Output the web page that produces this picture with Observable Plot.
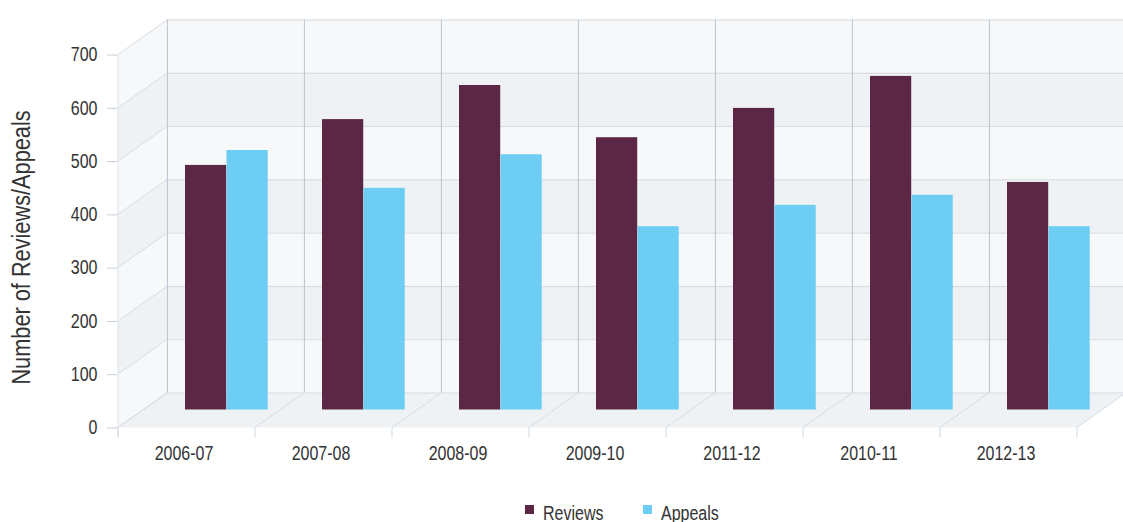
<!DOCTYPE html>
<html><head><meta charset="utf-8">
<script src="https://cdn.jsdelivr.net/npm/d3@7"></script>
<script src="https://cdn.jsdelivr.net/npm/@observablehq/plot@0.6"></script>
<style>
html,body{margin:0;padding:0;background:#fff;overflow:hidden;width:1123px;height:522px}
#chart svg{display:block}
.legend{position:relative;height:19px;font-family:"Liberation Sans",Arial,sans-serif;font-size:19.5px;line-height:20px;color:#333;white-space:nowrap}
.legend .sw{position:absolute;top:2px;width:9px;height:9px}
.legend .lt{position:absolute;top:0;transform:scaleX(0.82);transform-origin:0 0}
</style></head><body><div id="chart"></div><script>
const categories = ["2006-07","2007-08","2008-09","2009-10","2011-12","2010-11","2012-13"];
const reviews = [459,545,609,511,566,626,427];
const appeals = [487,416,479,344,384,403,344];
const series = ["Reviews","Appeals"];
const seriesColors = ["#5c2744","#6dcdf3"];
const yTicks = [0,100,200,300,400,500,600,700];
const yLabel = "Number of Reviews/Appeals";

const rows = categories.flatMap((c, i) => [
  {category: c, series: series[0], value: reviews[i]},
  {category: c, series: series[1], value: appeals[i]}
]);

const W = 1123, H = 503;
const ML = 117, MR = 45, MT = 54.5, MB = 75.5;
const DX = 49.4, DY = -35;      // depth of the back wall
const BDY = -18;                 // depth at which the columns stand
const bandW = (W - ML - MR) / categories.length;
const barW = 41.5;
const barDx = 67;
const LIGHT = "#f7f8fa", DARK = "#eef2f5";
const FONT = '"Liberation Sans",Arial,sans-serif';
const NARROW = 0.82;

const stripes = d3.pairs(yTicks);

function decor(index, {x, y}) {
  const g = d3.create("svg:g");
  const edges = categories.map(c => x(c)).concat([x(categories[categories.length-1]) + x.bandwidth()]);
  const x0 = edges[0], x1 = edges[edges.length-1];
  const y0 = y(0);
  const poly = pts => pts.map(p => p.join(",")).join(" ");
  g.append("polygon").attr("points", poly([[x0,y0],[x1,y0],[x1+DX,y0+DY],[x0+DX,y0+DY]])).attr("fill", DARK);
  stripes.forEach(([a,b], i) => {
    g.append("polygon").attr("points", poly([[x0,y(a)],[x0+DX,y(a)+DY],[x0+DX,y(b)+DY],[x0,y(b)]]))
      .attr("fill", i % 2 ? DARK : LIGHT);
  });
  return g.node();
}

function decorLines(index, {x, y}) {
  const g = d3.create("svg:g").attr("fill", "none").attr("stroke-width", 1);
  const edges = categories.map(c => x(c)).concat([x(categories[categories.length-1]) + x.bandwidth()]);
  const x0 = edges[0];
  const y0 = y(0), yTop = y(yTicks[yTicks.length-1]);
  edges.forEach(e => g.append("line").attr("x1", e+DX).attr("x2", e+DX).attr("y1", y0+DY).attr("y2", yTop+DY).attr("stroke", "#b8c3cc"));
  yTicks.forEach(v => g.append("line").attr("x1", x0).attr("y1", y(v)).attr("x2", x0+DX).attr("y2", y(v)+DY).attr("stroke", "#d6dce2"));
  edges.forEach(e => g.append("line").attr("x1", e).attr("y1", y0).attr("x2", e+DX).attr("y2", y0+DY).attr("stroke", "#d6dce2"));
  g.append("line").attr("x1", x0).attr("x2", x0).attr("y1", yTop).attr("y2", y0+10).attr("stroke", "#dce1e6");
  edges.forEach(e => g.append("line").attr("x1", e).attr("x2", e).attr("y1", y0).attr("y2", y0+10).attr("stroke", "#d3d9df"));
  return g.node();
}

const chart = Plot.plot({
  width: W, height: H,
  marginLeft: ML, marginRight: MR, marginTop: MT, marginBottom: MB,
  style: {fontFamily: FONT, background: "transparent", overflow: "visible"},
  x: {domain: categories, padding: 0, label: null},
  y: {domain: [0, 700], label: null},
  color: {domain: series, range: seriesColors},
  marks: [
    decor,
    Plot.rect(stripes.filter((d,i) => i % 2 === 0), {y1: d => d[0], y2: d => d[1], fill: LIGHT, dx: DX, dy: DY}),
    Plot.rect(stripes.filter((d,i) => i % 2 === 1), {y1: d => d[0], y2: d => d[1], fill: DARK, dx: DX, dy: DY}),
    Plot.ruleY(yTicks, {stroke: "#d5dbe0", dx: DX, dy: DY}),
    decorLines,
    Plot.barY(rows.filter(d => d.series === series[0]), {x: "category", y: "value", fill: "series", insetLeft: 0, insetRight: bandW - barW, dx: barDx, dy: BDY}),
    Plot.barY(rows.filter(d => d.series === series[1]), {x: "category", y: "value", fill: "series", insetLeft: 0, insetRight: bandW - barW, dx: barDx + barW, dy: BDY}),
    Plot.axisY({ticks: yTicks, tickSize: 10, tickPadding: 10, stroke: "#c5cdd4", fill: "#333", fontSize: 19.5, label: null}),
    Plot.axisX({tickSize: 0, tickPadding: 18, fill: "#333", fontSize: 19.5, label: null, dx: -3}),
    Plot.text([yLabel], {text: d => d, frameAnchor: "left", textAnchor: "middle", rotate: -90, dx: -96, dy: 6, fontSize: 26.5, fill: "#333"})
  ]
});
document.getElementById("chart").appendChild(chart);

// condensed lettering, like the reference's narrow typeface
chart.querySelectorAll("text").forEach(t => {
  const L = t.getComputedTextLength();
  if (L > 0) {
    t.setAttribute("textLength", (L * NARROW).toFixed(2));
    t.setAttribute("lengthAdjust", "spacingAndGlyphs");
  }
});

const legend = document.createElement("div");
legend.className = "legend";
const legendLeft = [525, 643];
series.forEach((s, i) => {
  const sw = document.createElement("span");
  sw.className = "sw";
  sw.style.left = legendLeft[i] + "px";
  sw.style.background = seriesColors[i];
  const t = document.createElement("span");
  t.className = "lt";
  t.style.left = (legendLeft[i] + 18) + "px";
  t.textContent = s;
  legend.appendChild(sw); legend.appendChild(t);
});
document.getElementById("chart").appendChild(legend);
</script></body></html>
